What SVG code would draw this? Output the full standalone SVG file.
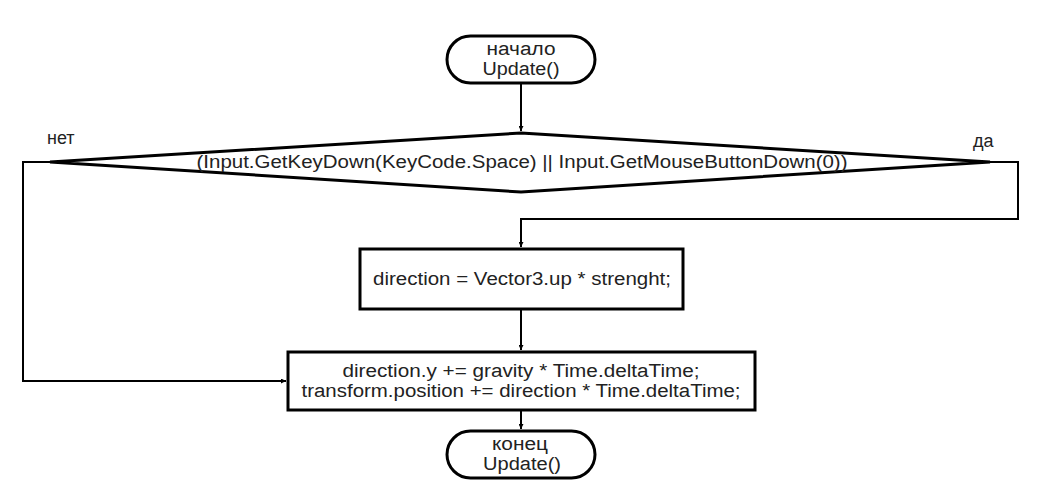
<svg xmlns="http://www.w3.org/2000/svg" width="1047" height="493" viewBox="0 0 1047 493">
<style>
.shape{fill:#fff;stroke:#000;stroke-width:3}
.conn{fill:none;stroke:#000;stroke-width:2}
text{font-family:"Liberation Sans",Arial,sans-serif;font-size:18px;fill:#222;text-anchor:middle}
.lbl{text-anchor:start}
</style>
<defs>
<marker id="arr" viewBox="0 0 10 10" refX="10" refY="5" markerWidth="5" markerHeight="5" orient="auto" markerUnits="userSpaceOnUse">
<path d="M0,0 L10,5 L0,10 z" fill="#000"/>
</marker>
</defs>
<rect width="1047" height="493" fill="#fff"/>
<g id="connectors">
<path class="conn" d="M521,83 V131" marker-end="url(#arr)"/>
<path class="conn" d="M990,162 H1018 V219 H521 V247" marker-end="url(#arr)"/>
<path class="conn" d="M50,162 H23 V381 H286" marker-end="url(#arr)"/>
<path class="conn" d="M521,310 V350" marker-end="url(#arr)"/>
<path class="conn" d="M521,411 V429" marker-end="url(#arr)"/>
</g>
<g id="start">
<rect class="shape" x="447" y="36" width="148" height="47" rx="23.5"/>
<text x="521" y="55" textLength="69" lengthAdjust="spacingAndGlyphs">начало</text>
<text x="521" y="75" textLength="77" lengthAdjust="spacingAndGlyphs">Update()</text>
</g>
<g id="decision">
<polygon class="shape" points="521,133 990,162 521,192 50,162"/>
<text x="522" y="168" textLength="651" lengthAdjust="spacingAndGlyphs">(Input.GetKeyDown(KeyCode.Space) || Input.GetMouseButtonDown(0))</text>
<text class="lbl" x="47" y="144">нет</text>
<text class="lbl" x="973" y="147">да</text>
</g>
<g id="box1">
<rect class="shape" x="360" y="249" width="323" height="60"/>
<text x="522" y="285" textLength="298" lengthAdjust="spacingAndGlyphs">direction = Vector3.up * strenght;</text>
</g>
<g id="box2">
<rect class="shape" x="288" y="352" width="467" height="58"/>
<text x="521" y="377" textLength="357" lengthAdjust="spacingAndGlyphs">direction.y += gravity * Time.deltaTime;</text>
<text x="521" y="397" textLength="439" lengthAdjust="spacingAndGlyphs">transform.position += direction * Time.deltaTime;</text>
</g>
<g id="end">
<rect class="shape" x="447" y="431" width="148" height="47" rx="23.5"/>
<text x="520" y="450" textLength="56" lengthAdjust="spacingAndGlyphs">конец</text>
<text x="522" y="470" textLength="78" lengthAdjust="spacingAndGlyphs">Update()</text>
</g>
</svg>
